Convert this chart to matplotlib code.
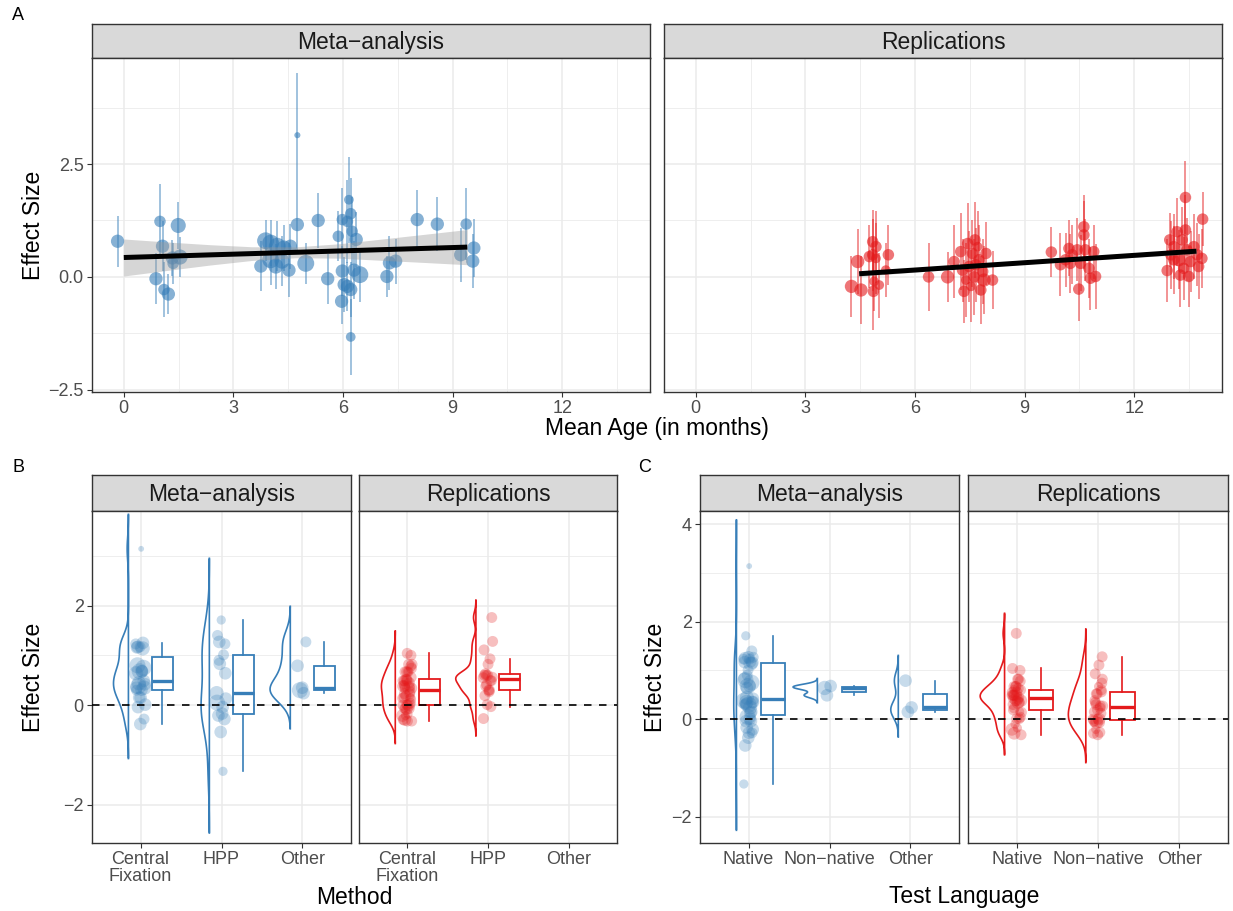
import numpy as np
import matplotlib
matplotlib.use('Agg')
import matplotlib.pyplot as plt

plt.rcParams['font.family'] = ['Liberation Sans', 'DejaVu Sans']

BLUE = '#377EB8'
RED = '#E41A1C'
GRID = '#EBEBEB'
DARK = '#333333'

# ---- meta-analysis studies (age in months, effect size, CI half width, weight) ----
meta_age = [-0.17, 0.99, 1.06, 0.88, 1.10, 1.22, 1.35, 1.49, 1.54, 1.33,
            4.75, 3.88, 3.75, 4.02, 4.20, 4.38, 4.56, 4.02, 4.16, 4.33,
            4.52, 4.75, 4.98, 5.32, 5.58, 5.87, 5.98, 6.12, 6.16, 6.21,
            6.25, 6.36, 5.98, 6.03, 6.12, 6.21, 5.96, 6.30, 6.46, 6.21,
            7.20, 7.27, 7.44, 8.03, 8.58, 9.22, 9.37, 9.58, 9.55]
meta_es = [0.79, 1.23, 0.68, -0.04, -0.28, -0.38, 0.30, 1.14, 0.44, 0.42,
           3.14, 0.80, 0.24, 0.75, 0.68, 0.64, 0.68, 0.38, 0.24, 0.35,
           0.15, 1.16, 0.30, 1.25, -0.04, 0.90, 1.27, 1.23, 1.71, 1.40,
           1.01, 0.83, 0.13, -0.17, -0.21, -0.28, -0.54, 0.15, 0.05, -1.33,
           0.01, 0.31, 0.35, 1.27, 1.17, 0.49, 1.17, 0.64, 0.35]
meta_ci = [0.56, 0.82, 0.55, 0.57, 0.60, 0.45, 0.45, 0.52, 0.45, 0.40,
           1.37, 0.45, 0.55, 0.50, 0.55, 0.50, 0.50, 0.55, 0.50, 0.55,
           0.60, 0.60, 0.45, 0.60, 0.55, 0.55, 0.70, 0.92, 0.95, 0.80,
           0.75, 0.60, 0.55, 0.60, 0.55, 0.60, 0.50, 0.65, 0.60, 0.85,
           0.45, 0.60, 0.50, 0.65, 0.60, 0.60, 0.80, 0.65, 0.60]
meta_w = [3, 2.5, 3, 3, 2.5, 3, 2.5, 3.5, 3.5, 3,
          1, 4, 3, 4, 4, 3.5, 3, 4, 3.5, 3.5,
          3, 3, 4, 3, 3, 2.5, 2.5, 2.5, 2, 2.5,
          2.5, 3, 3, 3, 3, 3, 3, 3, 4, 2,
          3, 3, 3, 3, 3, 3, 2.5, 3, 3]
meta_method = ['Other', 'CF', 'CF', 'CF', 'CF', 'CF', 'CF', 'CF', 'CF', 'CF',
               'CF', 'CF', 'Other', 'CF', 'CF', 'CF', 'CF', 'CF', 'HPP', 'CF',
               'CF', 'CF', 'Other', 'CF', 'HPP', 'HPP', 'Other', 'HPP', 'HPP', 'HPP',
               'HPP', 'HPP', 'HPP', 'HPP', 'HPP', 'HPP', 'HPP', 'CF', 'HPP', 'HPP',
               'CF', 'CF', 'Other', 'HPP', 'CF', 'CF', 'CF', 'HPP', 'CF']
meta_lang = (['Other'] + ['Native'] * 9
             + ['Native', 'Native', 'Other', 'Native', 'Native', 'Non-native', 'Non-native',
                'Native', 'Native', 'Native']
             + ['Other'] + ['Native'] * 9
             + ['Native'] * 10
             + ['Native'] * 5 + ['Non-native'] + ['Native'] * 3)

# fitted line + 95% band
meta_fit_x = [0, 1.2, 2.35, 3.5, 4.7, 5.9, 7.05, 8.2, 9.4]
meta_fit_y = [0.43, 0.459, 0.488, 0.516, 0.545, 0.575, 0.603, 0.631, 0.66]
meta_fit_se = [0.41, 0.314, 0.226, 0.152, 0.12, 0.16, 0.235, 0.31, 0.39]

# ---- replication labs ----
rep_age = [4.26, 4.43, 4.52, 4.84, 4.84, 4.93, 4.75, 4.88, 4.86, 5.02, 5.27, 5.20, 4.93,
           6.37,
           6.89, 7.07, 7.25, 7.34, 7.39, 7.48, 7.57, 7.64, 7.71, 7.75,
           7.85, 7.94, 7.80, 8.12, 7.53, 7.44, 7.62, 7.30, 7.66, 7.89,
           9.73, 9.98, 10.21, 10.30, 10.44, 10.62, 10.62, 10.66,
           10.89, 10.53, 10.76, 10.80, 10.94, 10.48, 10.25, 10.12,
           12.90, 12.97, 13.08, 13.17, 13.40, 13.40, 13.31, 13.44, 13.22, 13.08,
           13.35, 13.54, 13.63, 13.72, 13.85, 13.87, 13.76, 13.26, 13.49, 13.00]
rep_es = [-0.21, 0.34, -0.29, 0.78, 0.49, 0.41, 0.45, -0.10, -0.32, -0.18, 0.49, 0.15, 0.67,
          0.00,
          0.00, 0.34, 0.56, -0.32, -0.07, 0.23, 0.52, 0.82, 0.67, 0.38,
          0.12, 0.52, -0.29, -0.07, -0.21, 0.74, 0.00, 0.15, 0.27, -0.07,
          0.55, 0.27, 0.63, 0.49, 0.60, 1.11, 0.93, 0.60,
          0.56, 0.30, 0.19, -0.03, 0.01, -0.27, 0.30, 0.38,
          0.14, 0.82, 0.67, 1.00, 1.76, 1.04, 0.82, 0.60, 0.38, 0.38,
          0.19, 0.34, 0.67, 0.49, 0.41, 1.28, 0.23, 0.04, 0.01, 0.49]
rep_ci = [0.68, 0.72, 0.75, 0.70, 0.80, 0.78, 0.70, 0.65, 0.85, 0.72, 0.66, 0.60, 0.80,
          0.75,
          0.55, 0.80, 0.85, 0.70, 0.82, 0.78, 0.75, 0.85, 0.80, 0.78,
          0.72, 0.70, 0.75, 0.65, 0.80, 0.90, 0.85, 0.70, 0.82, 0.75,
          0.55, 0.70, 0.62, 0.65, 0.70, 0.70, 0.75, 0.68,
          0.60, 0.62, 0.65, 0.70, 0.72, 0.70, 0.66, 0.60,
          0.70, 0.60, 0.72, 0.75, 0.80, 0.78, 0.72, 0.70, 0.65, 0.75,
          0.70, 0.68, 0.72, 0.70, 0.66, 0.60, 0.72, 0.70, 0.68, 0.75]
rep_w = [3, 3, 3, 2.5, 2.5, 2, 2.5, 2, 2.5, 2, 2.5, 2, 2.5,
         2.5,
         3, 2.5, 2.5, 2.5, 2, 2.5, 2.5, 2.5, 2, 2.5,
         2.5, 2.5, 2.5, 2.5, 2, 2.5, 2.5, 2.5, 2.5, 3,
         2.5, 2.5, 2.5, 2.5, 2.5, 2.5, 2.5, 2.5,
         2.5, 2.5, 2.5, 2.5, 2.5, 2.5, 2.5, 2.5,
         2.5, 2.5, 2.5, 2.5, 2.5, 2.5, 2.5, 2.5, 3, 2.5,
         2.5, 2.5, 2.5, 2.5, 2.5, 2.5, 2.5, 2.5, 2.5, 2.5]
rep_method = (['CF'] * 34 + ['HPP'] * 16
              + ['CF', 'CF', 'CF', 'CF', 'HPP', 'CF', 'HPP', 'HPP', 'CF', 'CF',
                 'CF', 'CF', 'CF', 'HPP', 'HPP', 'HPP', 'CF', 'CF', 'CF', 'CF'])
rep_lang = (['Native'] * 13 + ['Non-native'] * 21
            + ['Native', 'Non-native', 'Native', 'Native', 'Native', 'Non-native', 'Non-native',
               'Non-native', 'Native', 'Native', 'Non-native', 'Non-native', 'Native',
               'Non-native', 'Non-native', 'Native']
            + ['Native'] * 15 + ['Non-native'] + ['Native'] * 4)

rep_fit_x = [4.47, 6.8, 9.1, 11.4, 13.7]
rep_fit_y = [0.07, 0.196, 0.32, 0.445, 0.57]
rep_fit_se = [0.06, 0.04, 0.03, 0.04, 0.06]

method_cats = ['CF', 'HPP', 'Other']
method_labels = ['Central\nFixation', 'HPP', 'Other']
lang_cats = ['Native', 'Non-native', 'Other']
lang_labels = ['Native', 'Non\u2212native', 'Other']

W, H = 1233, 911
fig = plt.figure(figsize=(W / 100, H / 100), dpi=100)


def px_axes(x0, y0, x1, y1):
    return fig.add_axes([x0 / W, 1 - y1 / H, (x1 - x0) / W, (y1 - y0) / H])


def strip(x0, y0, x1, y1, label):
    s = px_axes(x0, y0, x1, y1)
    s.set_facecolor('#D9D9D9')
    s.set_xticks([])
    s.set_yticks([])
    for sp in s.spines.values():
        sp.set_color(DARK)
        sp.set_linewidth(1.0)
    s.text(0.5, 0.47, label, ha='center', va='center', fontsize=16.5,
           color='#1A1A1A', transform=s.transAxes)


def style(ax, left_labels):
    ax.set_axisbelow(True)
    for sp in ax.spines.values():
        sp.set_color(DARK)
        sp.set_linewidth(1.0)
    ax.grid(True, which='major', color=GRID, lw=1.1)
    ax.grid(True, which='minor', color=GRID, lw=0.6)
    ax.tick_params(which='major', length=3.5, width=0.8, color=DARK,
                   labelsize=13, labelcolor='#4D4D4D', pad=2.5)
    ax.tick_params(which='minor', length=0)
    if not left_labels:
        ax.tick_params(axis='y', left=False, labelleft=False)


def dpx(w):
    return 2.5 + 3.6 * np.asarray(w, float)


# ---------------- Panel A ----------------
def age_panel(x0, x1, age, es, ci, w, color, fx, fy, fse, label, left_labels):
    strip(x0, 24, x1, 58, label)
    ax = px_axes(x0, 58, x1, 392)
    age = np.asarray(age); es = np.asarray(es); ci = np.asarray(ci)
    ax.vlines(age, es - ci, es + ci, color=color, alpha=0.6, lw=1.1, zorder=2)
    ax.scatter(age, es, s=(dpx(w) * 0.72) ** 2, color=color, alpha=0.6,
               edgecolors='none', zorder=3)
    fx = np.asarray(fx); fy = np.asarray(fy); fse = np.asarray(fse)
    ax.fill_between(fx, fy - fse, fy + fse, color='#999999', alpha=0.4,
                    lw=0, zorder=4)
    ax.plot(fx, fy, color='black', lw=3.6, zorder=5, solid_capstyle='butt')
    ax.set_xlim(-0.87, 14.4)
    ax.set_ylim(-2.55, 4.85)
    ax.set_xticks([0, 3, 6, 9, 12])
    ax.set_xticks([1.5, 4.5, 7.5, 10.5, 13.5], minor=True)
    ax.set_yticks([-2.5, 0, 2.5])
    ax.set_yticklabels(['\u22122.5', '0.0', '2.5'])
    ax.set_yticks([-1.25, 1.25, 3.75], minor=True)
    style(ax, left_labels)
    return ax


age_panel(92, 650, meta_age, meta_es, meta_ci, meta_w, BLUE,
          meta_fit_x, meta_fit_y, meta_fit_se, 'Meta\u2212analysis', True)
age_panel(664, 1222, rep_age, rep_es, rep_ci, rep_w, RED,
          rep_fit_x, rep_fit_y, rep_fit_se, 'Replications', False)


# ---------------- Panels B and C (raincloud) ----------------
def bw_nrd0(v):
    hi = np.std(v, ddof=1)
    q75, q25 = np.percentile(v, [75, 25])
    lo = min(hi, (q75 - q25) / 1.34)
    if lo == 0:
        lo = hi if hi > 0 else 1.0
    return 0.9 * lo * len(v) ** (-0.2)


def kde(v, bw):
    grid = np.linspace(v.min() - 3 * bw, v.max() + 3 * bw, 512)
    z = (grid[:, None] - v[None, :]) / bw
    d = np.exp(-0.5 * z ** 2).sum(1) / (len(v) * bw * np.sqrt(2 * np.pi))
    return grid, d


def rain_panel(x0, x1, es, w, groups, cats, labels, color, vw, boff, bwid,
               ylim, yt, ytl, ymin, strip_label, left_labels):
    strip(x0, 475, x1, 511, strip_label)
    ax = px_axes(x0, 511, x1, 843)
    es = np.asarray(es); w = np.asarray(w); groups = np.asarray(groups)
    dens = {}
    for c in cats:
        v = es[groups == c]
        if len(v) > 1:
            dens[c] = kde(v, bw_nrd0(v))
    dmax = max(d.max() for _, d in dens.values()) if dens else 1
    for i, c in enumerate(cats):
        pos = i + 1
        v = es[groups == c]
        if len(v) == 0:
            continue
        if c in dens:
            g, d = dens[c]
            edge = pos - 0.15
            xs = edge - d / dmax * vw
            ax.fill(np.r_[xs, edge, edge], np.r_[g, g[-1], g[0]],
                    facecolor='none', edgecolor=color, lw=1.2, zorder=3)
        n = len(v)
        jit = ((np.arange(n) * 0.618034) % 1 - 0.5) * 0.12
        ax.scatter(pos + jit, v, s=(dpx(w[groups == c]) * 0.72 * 0.95) ** 2,
                   color=color, alpha=0.28, edgecolors='none', zorder=4)
        ax.boxplot(v, positions=[pos + boff], widths=[bwid], whis=1.5,
                   showfliers=False, showcaps=False, patch_artist=True,
                   manage_ticks=False,
                   boxprops=dict(facecolor='white', edgecolor=color, lw=1.3),
                   medianprops=dict(color=color, lw=2.4),
                   whiskerprops=dict(color=color, lw=1.2), zorder=5)
    ax.axhline(0, color='black', lw=1.2, ls=(0, (4.5, 4.5)), zorder=6)
    ax.set_xlim(0.4, 3.6)
    ax.set_ylim(*ylim)
    ax.set_xticks([1, 2, 3])
    ax.set_xticklabels(labels, linespacing=0.95)
    ax.set_yticks(yt)
    ax.set_yticklabels(ytl)
    ax.set_yticks(ymin, minor=True)
    style(ax, left_labels)
    return ax


b_ylim = (-2.77, 3.9)
b_yt = [-2, 0, 2]
b_ytl = ['\u22122', '0', '2']
rain_panel(92, 351, meta_es, meta_w, meta_method, method_cats, method_labels, BLUE,
           0.25, 0.27, 0.26, b_ylim, b_yt, b_ytl, [-1, 1, 3], 'Meta\u2212analysis', True)
rain_panel(359, 617, rep_es, rep_w, rep_method, method_cats, method_labels, RED,
           0.25, 0.27, 0.26, b_ylim, b_yt, b_ytl, [-1, 1, 3], 'Replications', False)

c_ylim = (-2.54, 4.27)
c_yt = [-2, 0, 2, 4]
c_ytl = ['\u22122', '0', '2', '4']
rain_panel(700, 959, meta_es, meta_w, meta_lang, lang_cats, lang_labels, BLUE,
           0.30, 0.30, 0.30, c_ylim, c_yt, c_ytl, [-1, 1, 3], 'Meta\u2212analysis', True)
rain_panel(968, 1228, rep_es, rep_w, rep_lang, lang_cats, lang_labels, RED,
           0.30, 0.30, 0.30, c_ylim, c_yt, c_ytl, [-1, 1, 3], 'Replications', False)

# ---------------- titles and panel letters ----------------
def ftext(x, y, s, **kw):
    fig.text(x / W, 1 - y / H, s, ha='center', va='center', **kw)


ftext(33, 225, 'Effect Size', fontsize=16.5, rotation=90)
ftext(657, 428, 'Mean Age (in months)', fontsize=16.5)
ftext(33, 677, 'Effect Size', fontsize=16.5, rotation=90)
ftext(655, 677, 'Effect Size', fontsize=16.5, rotation=90)
ftext(354, 897, 'Method', fontsize=16.5)
ftext(964, 897, 'Test Language', fontsize=16.5)
ftext(18, 16, 'A', fontsize=13)
ftext(18, 467, 'B', fontsize=13)
ftext(645, 467, 'C', fontsize=13)

fig.savefig('out.png', dpi=100, facecolor='white')
